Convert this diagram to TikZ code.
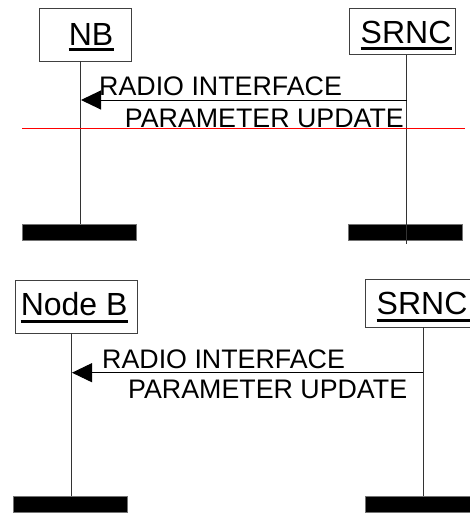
\documentclass[tikz,border=0pt]{standalone}
\usepackage{fontspec}
\setmainfont{Liberation Sans}
\usetikzlibrary{arrows.meta,positioning}

\begin{document}
\begin{tikzpicture}[x=1pt,y=-1pt,>={Triangle[length=20pt,width=19pt]},
entitybox/.style={draw=black!75,line width=0.8pt,inner sep=0pt},
entitylabel/.style={font=\fontsize{32}{32}\selectfont,inner sep=0pt,anchor=base west},
msglabel/.style={font=\fontsize{26.8}{27}\selectfont,inner sep=0pt,anchor=base west},
ulbar/.style={line width=3pt},
lifeline/.style={draw=black!80,line width=0.8pt},
msgline/.style={->,line width=1pt},
endbar/.style={fill=black,draw=black!55,line width=0.5pt,inner sep=0pt,minimum height=16pt}]
\useasboundingbox (0,0) rectangle (470,522);
% upper chart
\node[entitybox,minimum width=92pt,minimum height=53pt] (nbBox) at (85,34.5) {};
\node[entitybox,minimum width=106pt,minimum height=46pt] (srncBoxA) at (402,31.5) {};
\node[entitylabel] (nbLbl) at (68.6,45) {NB};
\node[entitylabel] (srncLblA) at (360.5,43.5) {SRNC};
\draw[ulbar] ([yshift=-4.3pt]nbLbl.base west) -- ([yshift=-4.3pt,xshift=1pt]nbLbl.base east);
\draw[ulbar] ([yshift=-4.8pt]srncLblA.base west) -- ([yshift=-4.8pt]srncLblA.base east);
\node[endbar,minimum width=114pt] (nbEnd) at (79,232) {};
\node[endbar,minimum width=114pt] (srncEndA) at (405.3,232) {};
\coordinate (nbTop) at (80.7,61);
\coordinate (srncTopA) at (406.7,54.5);
\coordinate (srncFootA) at (406.7,244);
\draw[lifeline] (nbTop) -- (nbTop |- nbEnd.north);
\draw[lifeline] (srncTopA) -- (srncFootA);
\coordinate (nbMsg) at (81,100);
\coordinate (srncMsgA) at (406.7,100);
\draw[msgline] (srncMsgA) -- (nbMsg);
\node[msglabel] (radioA) at (99,95) {RADIO INTERFACE};
\node[msglabel] (paramA) at (124.7,127.3) {PARAMETER UPDATE};
\draw[red,line width=1pt] (22,128.3) -- (465,128.3);
% lower chart
\node[entitybox,minimum width=122pt,minimum height=53pt] (nodebBox) at (76,306.7) {};
\node[entitybox,minimum width=108pt,minimum height=48pt] (srncBoxB) at (419,303.3) {};
\node[entitylabel] (nodebLbl) at (20.6,315) {Node B};
\node[entitylabel] (srncLblB) at (376.5,314.5) {SRNC};
\draw[ulbar] ([yshift=-6.3pt]nodebLbl.base west) -- ([yshift=-6.3pt]nodebLbl.base east);
\draw[ulbar] ([yshift=-6pt]srncLblB.base west) -- ([yshift=-6pt,xshift=4pt]srncLblB.base east);
\node[endbar,minimum width=114pt] (nodebEnd) at (70.5,504) {};
\node[endbar,minimum width=108pt] (srncEndB) at (419,504) {};
\coordinate (nodebTop) at (71.7,333.3);
\coordinate (srncTopB) at (423.3,327.3);
\draw[lifeline] (nodebTop) -- (nodebTop |- nodebEnd.north);
\draw[lifeline] (srncTopB) -- (srncTopB |- srncEndB.north);
\coordinate (nodebMsg) at (72,372.7);
\coordinate (srncMsgB) at (423.3,372.7);
\draw[msgline] (srncMsgB) -- (nodebMsg);
\node[msglabel] (radioB) at (102,368.3) {RADIO INTERFACE};
\node[msglabel] (paramB) at (128,398.3) {PARAMETER UPDATE};
\end{tikzpicture}
\end{document}
